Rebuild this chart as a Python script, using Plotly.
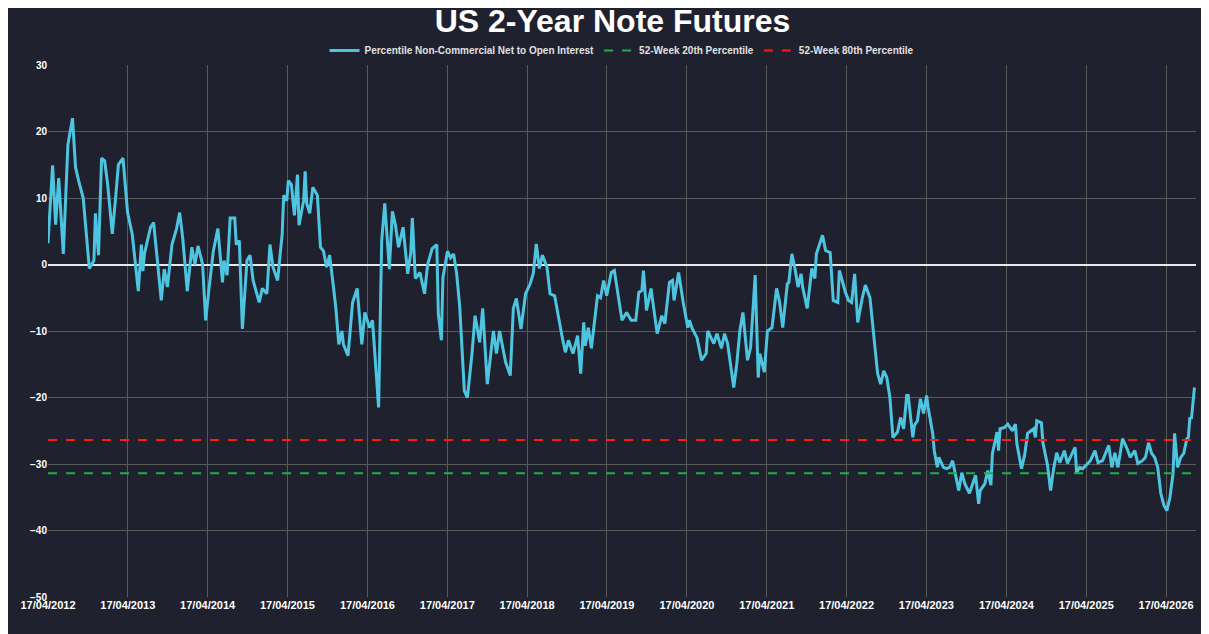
import pandas as pd
import plotly.graph_objects as go

start_date = "2012-04-17"
weeks = [0,3,5,7,10,13,16,18,20,23,27,30,31,33,35,37,39,42,44,46,49,50,52,55,59,61,62,63,67,69,71,74,76,78,81,84,86,88,91,94,96,98,101,103,105,108,111,114,115,117,119,122,123,125,127,130,132,134,138,140,143,145,147,150,153,154,156,157,159,161,163,164,167,168,169,171,173,176,178,180,182,184,186,188,190,192,193,196,199,202,205,207,210,212,216,218,220,223,225,227,229,
230,232,235,237,238,240,243,246,248,251,254,255,257,258,261,263,265,267,269,272,274,277,279,282,284,287,291,293,295,299,302,304,306,309,312,315,317,319,321,323,326,328,331,333,336,338,340,343,346,348,350,351,353,355,359,361,363,365,368,370,372,375,378,381,384,386,388,389,391,394,395,398,401,403,406,408,409,412,415,418,419,421,424,427,430,431,435,437,440,442,444,447,448,450,452,454,457,459,462,464,465,468,470,473,476,478,480,483,
484,486,488,490,492,493,496,499,501,502,506,508,511,513,516,517,521,523,525,527,529,532,534,537,539,542,544,546,548,550,552,555,557,559,561,562,565,566,568,570,572,574,575,578,579,581,582,585,587,589,591,595,597,599,602,604,606,608,609,612,614,616,617,620,621,622,625,627,630,632,633,636,638,640,644,645,646,649,650,653,655,657,659,661,664,666,669,671,672,674,676,679,681,684,686,689,693,695,697,699,702,705,707,710,712,715,717,719,721,723,725,727,729,731,733,735,736,738,740,742,744,745,746,747,749]
percentile = [3.2,14.9,6,13,1.6,18,22,14.6,12.6,10,-0.6,0.6,7.7,1.4,16,15.6,12,4.6,9.6,15,16,13,7.8,4.6,-4,3,-1,1.6,5.6,6.3,2,-5.4,-0.7,-3.4,3,5.4,7.8,4,-4,2.6,0,2.8,0,-8.4,-4,2,5.4,-2.7,0.6,-1.6,7,7,3,3.6,-9.7,0.6,1.4,-2.4,-5.7,-3.6,-4.4,3,-0.4,-2.4,4.6,10.4,9.6,12.6,12,7.4,13.5,5.9,9.6,14,9.2,7.7,11.6,10.4,2.6,2,-0.4,1.4,-2.4,-6.4,-12,-10,-12,-13.7,-5.7,-3.6,-12,-7.2,-9.5,-8.4,-21.5,3.6,9.2,-0.7,8,5.9,2.6,
3.6,5.6,-1.4,1.8,7,-2.1,-1.2,-4.4,0,2.4,3,-7.4,-11.4,-2,2,1,1.6,-1.4,-6.4,-19,-20,-13.4,-7.7,-11.7,-6.6,-18,-10,-13.4,-10,-14.7,-16.7,-6.6,-5.1,-9.7,-4.4,-2.9,-1.4,3.1,-0.6,1.4,-0.4,-4.4,-4.7,-7.4,-11,-13.2,-11.4,-13.4,-10.7,-16.4,-8.7,-12.2,-9.5,-12.6,-4.7,-5,-2.4,-4.7,-1.2,-0.9,-3.9,-8.4,-7.2,-8.4,-8.4,-4.2,-3.9,-0.9,-6.9,-3.6,-5.4,-10.4,-7.7,-8.9,-2.7,-2.4,-5.4,-1.2,-5.7,-9.5,-8.4,-9.7,-11,-14.4,-13.4,-10,-11.9,-10.4,-12.6,-10.4,-11.9,-17,-18.5,-14.9,-10,-7.2,-14.4,-12.5,-1.6,-17,-13.4,-16.2,-10,-9.5,-3.6,-5.7,-9.5,-2.9,
-2.7,1.6,-0.6,-3.4,-1.4,-3.4,-6.6,-0.6,-2.1,1.6,4.4,2.1,1.8,-5.4,-5.7,-0.9,-4.2,-5.4,-5.7,-1.4,-8.7,-5,-3.1,-5,-10,-16.4,-18,-16,-17,-20,-26,-25.2,-23,-24.7,-19.7,-19.7,-26,-24.2,-23.5,-20.2,-22.4,-19.7,-21.5,-25.4,-28,-30.5,-29,-30.5,-30.7,-30.5,-29.5,-34,-31.3,-33,-34.4,-33,-31.7,-36,-34,-33,-31,-33.2,-28.4,-25.2,-28,-24.7,-24.5,-24,-25,-24,-27,-30.7,-28.7,-25.4,-24.7,-26,-23.5,-23.8,-26.8,-30.2,-34,-30.7,-28.3,-29.8,-28,-29.9,-28.4,-27.5,-31.3,-30.5,-30.7,-29.9,-29.5,-28,-29.8,-29.5,-27.2,-30.5,-28.3,-30.5,-26.2,-27.7,-29,-28,-29.9,-29.5,-29,-26.8,-28.4,-29,-30.5,-34.4,-36.2,-37,-35,-31.4,-25.4,-30.5,-29,-28.4,-26.2,-26,-23,-23.2,-18.5]
pct20 = -31.4
pct80 = -26.4
tick_years = list(range(2012, 2027))

t0 = pd.Timestamp(start_date)
dates = [t0 + pd.Timedelta(weeks=w) for w in weeks]
xend = t0 + pd.Timedelta(weeks=750)
tickvals = [pd.Timestamp(f"{y}-04-17") for y in tick_years]
ticktext = [f"17/04/{y}" for y in tick_years]

fig = go.Figure()
fig.add_trace(go.Scatter(x=dates, y=percentile, mode="lines",
    line=dict(color="#4ec5e0", width=3),
    name="<b>Percentile Non-Commercial Net to Open Interest</b>"))
fig.add_trace(go.Scatter(x=[t0, xend], y=[pct20, pct20], mode="lines",
    line=dict(color="#1fae4a", width=2, dash="dash"), name="<b>52-Week 20th Percentile</b>"))
fig.add_trace(go.Scatter(x=[t0, xend], y=[pct80, pct80], mode="lines",
    line=dict(color="#ff1a1a", width=2, dash="dash"), name="<b>52-Week 80th Percentile</b>"))

fig.update_layout(
    width=1209, height=634,
    paper_bgcolor="#1f222e", plot_bgcolor="#1f222e",
    font=dict(family="Liberation Sans, Arial", color="white"),
    title=dict(text="<b>US 2-Year Note Futures</b>", x=0.5, xanchor="center", y=0.997, yanchor="top",
               font=dict(size=32, color="white", family="Liberation Sans, Arial")),
    margin=dict(l=40, r=21, t=57, b=45),
    showlegend=True,
    legend=dict(orientation="h", x=0.5, xanchor="center", y=1.0, yanchor="bottom",
                font=dict(size=10, color="#e0e0e0"), bgcolor="rgba(0,0,0,0)"),
    xaxis=dict(range=[t0, xend], tickvals=tickvals, ticktext=[f"<b>{t}</b>" for t in ticktext],
               showgrid=True, gridcolor="#5a5a5a", gridwidth=1, zeroline=False,
               tickfont=dict(size=11, color="white"), showline=False, ticks=""),
    yaxis=dict(range=[-50, 30], dtick=10, showgrid=True, gridcolor="#5a5a5a", gridwidth=1,
               zeroline=True, zerolinecolor="#e8e8e8", zerolinewidth=1.5,
               tickfont=dict(size=10, color="white"), tickprefix="<b>", ticksuffix="</b>",
               showline=False, ticks=""),
)
fig.write_html("out.html")
